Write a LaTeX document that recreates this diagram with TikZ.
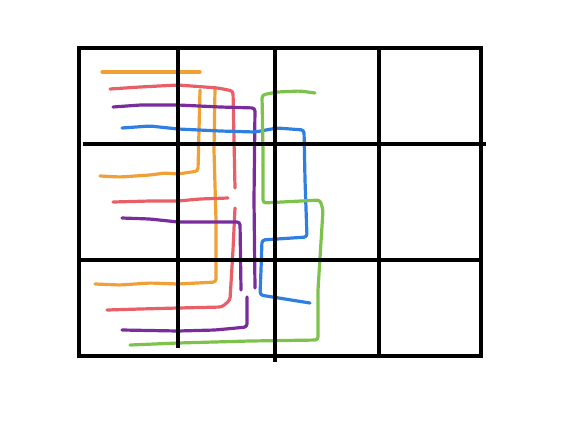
\documentclass[tikz,border=0pt]{standalone}
\usepackage{tikz}

\definecolor{penorange}{HTML}{F0A035}
\definecolor{penred}{HTML}{E85F68}
\definecolor{penpurple}{HTML}{7A2C9C}
\definecolor{penblue}{HTML}{2F7FE2}
\definecolor{pengreen}{HTML}{7DC24B}

\begin{document}
\begin{tikzpicture}[
  x=1pt, y=-1pt,
  gridline/.style={line width=3.2pt, black},
  pen/.style={line width=3.2pt, line cap=round, line join=round, rounded corners=3pt},
  orangepen/.style={pen, draw=penorange},
  redpen/.style={pen, draw=penred},
  purplepen/.style={pen, draw=penpurple},
  bluepen/.style={pen, draw=penblue},
  greenpen/.style={pen, draw=pengreen}
]
\useasboundingbox (0,0) rectangle (565,424);

% orange
\draw[orangepen] (102,72) -- (200,72);
\draw[orangepen] (100,176) -- (120,177) -- (150,175) -- (165,173) -- (178,174) -- (198,171) -- (199,130) -- (200,90);
\draw[orangepen] (215,88) -- (214,150) -- (216,220) -- (216,282) -- (178,284) -- (150,283) -- (120,285) -- (95,284);

% red
\draw[redpen] (110,89) -- (140,87) -- (178,85) -- (218,88) -- (233,91) -- (234,140) -- (235,188);
\draw[redpen] (113,202) -- (150,201) -- (178,201) -- (200,199) -- (228,198);
\draw[redpen] (235,208) -- (233,250) -- (230,300) -- (222,307) -- (178,308) -- (140,309) -- (107,310);

% purple
\draw[purplepen] (113,107) -- (140,105) -- (178,105) -- (220,107) -- (255,108) -- (254,200) -- (255,288);
\draw[purplepen] (122,218) -- (150,219) -- (178,222) -- (240,222) -- (241,290);
\draw[purplepen] (247,297) -- (247,327) -- (215,330) -- (178,331) -- (122,330);

% blue
\draw[bluepen] (122,128) -- (150,126) -- (178,129) -- (220,131) -- (255,132) -- (277,128) -- (304,130) -- (305,180) -- (307,237) -- (262,240) -- (261,270) -- (260,295) -- (310,303);

% green
\draw[greenpen] (315,93) -- (300,91) -- (277,92) -- (262,95) -- (263,150) -- (263,203) -- (320,200) -- (323,210) -- (318,290) -- (318,340) -- (250,341) -- (178,343) -- (130,345);

% grid
\draw[gridline] (79,48) rectangle (481,356);
\draw[gridline] (178,48) -- (178,348);
\draw[gridline] (275,50) -- (275,362);
\draw[gridline] (379,48) -- (379,356);
\draw[gridline] (83,144) -- (486,144);
\draw[gridline] (79,260) -- (481,260);
\end{tikzpicture}
\end{document}
